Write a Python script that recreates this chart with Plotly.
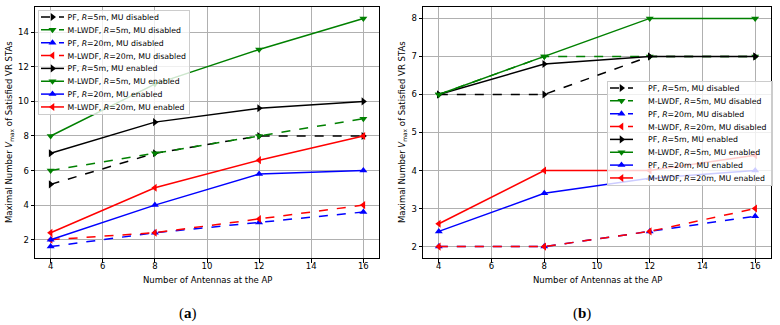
import plotly.graph_objects as go
from plotly.subplots import make_subplots

antennas = [4, 8, 12, 16]

series_names = [
    "PF, <i>R</i>=5m, MU disabled",
    "M-LWDF, <i>R</i>=5m, MU disabled",
    "PF, <i>R</i>=20m, MU disabled",
    "M-LWDF, <i>R</i>=20m, MU disabled",
    "PF, <i>R</i>=5m, MU enabled",
    "M-LWDF, <i>R</i>=5m, MU enabled",
    "PF, <i>R</i>=20m, MU enabled",
    "M-LWDF, <i>R</i>=20m, MU enabled",
]

# (a)
a_pf5_dis = [5.2, 7.0, 8.0, 8.0]
a_mlwdf5_dis = [6.0, 7.0, 8.0, 9.0]
a_pf20_dis = [1.6, 2.4, 3.0, 3.6]
a_mlwdf20_dis = [2.0, 2.4, 3.2, 4.0]
a_pf5_en = [7.0, 8.8, 9.6, 10.0]
a_mlwdf5_en = [8.0, 11.0, 13.0, 14.8]
a_pf20_en = [2.0, 4.0, 5.8, 6.0]
a_mlwdf20_en = [2.4, 5.0, 6.6, 8.0]

# (b)
b_pf5_dis = [6.0, 6.0, 7.0, 7.0]
b_mlwdf5_dis = [6.0, 7.0, 7.0, 7.0]
b_pf20_dis = [2.0, 2.0, 2.4, 2.8]
b_mlwdf20_dis = [2.0, 2.0, 2.4, 3.0]
b_pf5_en = [6.0, 6.8, 7.0, 7.0]
b_mlwdf5_en = [6.0, 7.0, 8.0, 8.0]
b_pf20_en = [2.4, 3.4, 3.8, 4.0]
b_mlwdf20_en = [2.6, 4.0, 4.0, 4.4]

a_series = [a_pf5_dis, a_mlwdf5_dis, a_pf20_dis, a_mlwdf20_dis,
            a_pf5_en, a_mlwdf5_en, a_pf20_en, a_mlwdf20_en]
b_series = [b_pf5_dis, b_mlwdf5_dis, b_pf20_dis, b_mlwdf20_dis,
            b_pf5_en, b_mlwdf5_en, b_pf20_en, b_mlwdf20_en]

colors = ["black", "#008000", "#0000ff", "#ff0000"] * 2
symbols = ["triangle-right", "triangle-down", "triangle-up", "triangle-left"] * 2
dashes = ["dash"] * 4 + ["solid"] * 4

fig = make_subplots(rows=1, cols=2)

for col, data, lg in [(1, a_series, "legend"), (2, b_series, "legend2")]:
    for i, ys in enumerate(data):
        fig.add_trace(go.Scatter(
            x=antennas, y=ys, name=series_names[i], mode="lines+markers",
            line=dict(color=colors[i], width=1.5, dash=dashes[i]),
            marker=dict(symbol=symbols[i], size=7, color=colors[i]),
            legend=lg, showlegend=True,
        ), row=1, col=col)

W, H = 780, 325
ax_common = dict(
    showline=True, mirror=True, linecolor="black", linewidth=1,
    ticks="outside", ticklen=3.5, tickwidth=0.8, tickcolor="black",
    showgrid=True, gridcolor="#b0b0b0", gridwidth=0.8, zeroline=False,
    tickfont=dict(family="DejaVu Sans", size=8.5, color="black"),
)
ytop = 1 - 7 / H
ybot = 1 - 258 / H
fig.update_xaxes(**ax_common, range=[3.4, 16.6], tickvals=[4, 6, 8, 10, 12, 14, 16],
                 ticklabelstandoff=-4)
fig.update_layout(
    xaxis=dict(domain=[35 / W, 379 / W]),
    xaxis2=dict(domain=[423 / W, 771 / W]),
)
fig.update_yaxes(**ax_common)
fig.update_layout(
    yaxis=dict(domain=[ybot, ytop], range=[0.94, 15.46], tickvals=[2, 4, 6, 8, 10, 12, 14]),
    yaxis2=dict(domain=[ybot, ytop], range=[1.7, 8.3], tickvals=[2, 3, 4, 5, 6, 7, 8]),
)

legend_common = dict(
    bgcolor="rgba(255,255,255,0.8)", bordercolor="#cccccc", borderwidth=1,
    font=dict(family="DejaVu Sans", size=7.8, color="black"),
    xanchor="left", yanchor="top", itemwidth=30, tracegroupgap=0,
)
fig.update_layout(
    legend=dict(**legend_common, x=38 / W, y=1 - 10 / H),
    legend2=dict(**legend_common, x=607 / W, y=1 - 81 / H),
)

ytitle = "Maximal Number <i>V</i><sub>max</sub> of Satisfied VR STAs"
annos = [
    dict(text=ytitle, x=10 / W, y=1 - 132 / H, textangle=-90),
    dict(text=ytitle, x=403 / W, y=1 - 132 / H, textangle=-90),
    dict(text="Number of Antennas at the AP", x=207 / W, y=1 - 280 / H),
    dict(text="Number of Antennas at the AP", x=597 / W, y=1 - 280 / H),
]
for a in annos:
    fig.add_annotation(**a, xref="paper", yref="paper", showarrow=False,
                       xanchor="center", yanchor="middle",
                       font=dict(family="DejaVu Sans", size=8.5, color="black"))
for txt, xc in [("(<b>a</b>)", 188), ("(<b>b</b>)", 582)]:
    fig.add_annotation(text=txt, x=xc / W, y=1 - 313 / H, xref="paper", yref="paper",
                       showarrow=False, xanchor="center", yanchor="middle",
                       font=dict(family="Liberation Serif", size=15, color="black"))

fig.update_layout(
    width=W, height=H, margin=dict(l=0, r=0, t=0, b=0),
    paper_bgcolor="white", plot_bgcolor="white",
)

# Compact the legends to matplotlib-like spacing (Plotly enforces a 19px
# minimum row height and a 30px minimum symbol width).
squeeze_js = """
var gd = document.getElementById('{plot_id}');
var targets = {legend: [38, 10], legend2: [607, 81]};
Object.keys(targets).forEach(function (id) {
  try {
    var cands = Array.prototype.slice.call(gd.querySelectorAll('g.' + id));
    var lg = null;
    cands.forEach(function (c) { if (!lg && c.querySelector('g.traces')) lg = c; });
    if (!lg) return;
    var step = 12.85, y0 = 7, textOff = 29;
    lg.setAttribute('transform', 'translate(' + targets[id][0] + ',' + targets[id][1] + ')');
    var sb = lg.querySelector('g.scrollbox');
    if (sb) { sb.setAttribute('transform', 'translate(0,0)'); sb.removeAttribute('clip-path'); }
    lg.querySelectorAll('g.groups').forEach(function (g) { g.setAttribute('transform', 'translate(0,0)'); });
    var items = Array.prototype.slice.call(lg.querySelectorAll('g.traces'));
    var bg = lg.querySelector('rect.bg') || lg.querySelector('rect');
    if (bg) {
      bg.setAttribute('x', 0.5);
      bg.setAttribute('y', 0.5);
      bg.setAttribute('height', (items.length - 1) * step + 14);
    }
    items.forEach(function (el, i) {
      el.setAttribute('transform', 'translate(1,' + (y0 + i * step) + ')');
      el.querySelectorAll('g.legendlines path').forEach(function (ln) {
        ln.setAttribute('d', 'M2,0h23');
      });
      el.querySelectorAll('g.legendpoints path.scatterpts').forEach(function (pt) {
        pt.setAttribute('transform', 'translate(13.5,0)');
      });
    });
    var left = bg ? bg.getBoundingClientRect().left : 0;
    var maxRight = 0;
    items.forEach(function (el) {
      var txt = el.querySelector('text.legendtext');
      if (!txt) return;
      txt.removeAttribute('transform');
      var r = txt.getBoundingClientRect();
      var cur = parseFloat(txt.getAttribute('x')) || 0;
      txt.setAttribute('x', cur + (left + textOff - r.left));
      var r2 = txt.getBoundingClientRect();
      maxRight = Math.max(maxRight, r2.right - left);
    });
    if (bg && maxRight > 0) bg.setAttribute('width', maxRight + 3);
    lg.querySelectorAll('rect.legendtoggle').forEach(function (tb) {
      tb.setAttribute('x', 0); tb.setAttribute('width', maxRight > 0 ? maxRight : 150);
    });
  } catch (e) { console.log(e); }
});
"""
fig.write_html("out.html", post_script=squeeze_js)
